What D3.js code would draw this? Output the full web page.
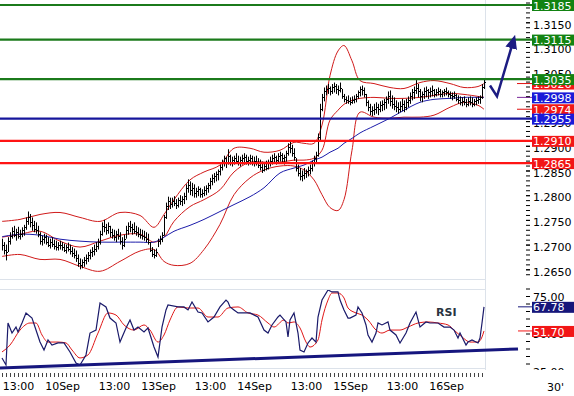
<!DOCTYPE html>
<html>
<head>
<meta charset="utf-8">
<script src="https://cdn.jsdelivr.net/npm/d3@7"></script>
<style>
body { margin: 0; background: #fff; }
svg { display: block; font-family: "DejaVu Sans", Verdana, sans-serif; }
</style>
</head>
<body>
<svg width="574" height="396"></svg>
<script>
// 30 min bars, 9 Sep 08:30 -> 16 Sep 09:30
var hi = [1.2712,1.2705,1.2700,1.2715,1.2725, 1.2735,1.2738,1.2732,1.2736,1.2730,1.2735,
  1.2740,1.2755,1.2767,1.2762,1.2755,1.2748, 1.2745,1.2738,
  1.2725,1.2718,1.2722,1.2720,1.2715,1.2712,1.2715,1.2710,1.2708,1.2705,
  1.2708,1.2705,1.2702,1.2700,1.2704,1.2700,1.2695,1.2692, 1.2688,1.2680,1.2672,1.2670,1.2675,
  1.2680,1.2685,1.2690,1.2695,1.2700,1.2705,1.2712, 1.2728,1.2745,1.2750,1.2742,1.2745,
  1.2738,1.2732,1.2730,1.2728,1.2732,1.2725,1.2715,1.2720, 1.2738,1.2745,1.2748,1.2742,1.2745,1.2738,1.2735,
  1.2732,1.2730,1.2728,1.2725,1.2722, 1.2705,1.2695,1.2690,1.2692, 1.2712,1.2718,1.2725,
  1.2760,1.2785,1.2797,1.2795, 1.2795,1.2798,1.2792,1.2795,1.2800,1.2798,1.2805,
  1.2822,1.2832,1.2828,1.2825,1.2822, 1.2815,1.2818,1.2815,1.2812,1.2818,1.2820,1.2825,
  1.2835,1.2842,1.2845,1.2848,1.2852, 1.2862,1.2872,1.2880,1.2878,1.2893,
  1.2882,1.2878,1.2880,1.2885,1.2880,1.2878,1.2882,1.2885,1.2882,1.2878,1.2882,1.2880,1.2878,1.2880,1.2875,
  1.2872,1.2868,1.2865,1.2870,1.2872, 1.2878,1.2882,1.2885,1.2880,1.2885,1.2888,1.2885,1.2882,
  1.2890,1.2905,1.2908,1.2902,1.2895, 1.2875,1.2862,1.2855,1.2850,1.2855,
  1.2852,1.2858,1.2862,1.2870,1.2880,1.2888, 1.2925,1.2985,1.3005,1.3018,
  1.3022,1.3025,1.3020,1.3025,1.3028,1.3025,1.3022,1.3028, 1.3015,1.3005,1.3000,1.3002,1.2998,
  1.3000,1.3002,1.3005,1.3012,1.3020, 1.3022,1.3018, 1.3005,1.2992,1.2985,1.2980,1.2985,
  1.2988,1.2985,1.2990,1.2992,1.2995, 1.3000,1.3010,1.3012,1.3002,1.2998,
  1.2992,1.2988,1.2990,1.2995,1.2992,1.2995,1.3000, 1.3008,1.3015,1.3020,1.3033,1.3025,
  1.3015,1.3010,1.3018,1.3020,1.3015,1.3018,1.3022,1.3015, 1.3015,1.3018,1.3015,1.3012,1.3015,1.3018,1.3012,1.3010,
  1.3008,1.3010,1.3005,1.3002,1.3000, 1.2998,1.3000,1.2995,1.2998,1.3000,1.2998,1.2995,
  1.2998,1.3000,1.3002,1.3025,1.3036];
var lo = [1.2688,1.2680,1.2668,1.2685,1.2700, 1.2712,1.2715,1.2708,1.2712,1.2710,1.2715,
  1.2718,1.2730,1.2740,1.2735,1.2728,1.2725, 1.2722,1.2715,
  1.2700,1.2698,1.2702,1.2700,1.2695,1.2692,1.2695,1.2690,1.2688,1.2688,
  1.2690,1.2688,1.2685,1.2682,1.2686,1.2680,1.2675,1.2672, 1.2665,1.2655,1.2650,1.2652,1.2655,
  1.2660,1.2665,1.2670,1.2675,1.2678,1.2685,1.2690, 1.2700,1.2718,1.2725,1.2720,1.2722,
  1.2715,1.2712,1.2708,1.2705,1.2710,1.2700,1.2690,1.2695, 1.2712,1.2720,1.2725,1.2720,1.2722,1.2718,1.2715,
  1.2712,1.2710,1.2708,1.2705,1.2700, 1.2685,1.2675,1.2672,1.2675, 1.2695,1.2700,1.2705,
  1.2718,1.2752,1.2770,1.2772, 1.2775,1.2778,1.2772,1.2775,1.2780,1.2778,1.2782,
  1.2790,1.2805,1.2800,1.2798,1.2795, 1.2795,1.2798,1.2795,1.2795,1.2798,1.2800,1.2805,
  1.2812,1.2820,1.2825,1.2828,1.2830, 1.2840,1.2850,1.2858,1.2855,1.2862,
  1.2860,1.2858,1.2862,1.2865,1.2860,1.2858,1.2862,1.2865,1.2862,1.2860,1.2862,1.2860,1.2858,1.2860,1.2855,
  1.2850,1.2845,1.2848,1.2850,1.2852, 1.2858,1.2862,1.2865,1.2862,1.2865,1.2868,1.2865,1.2862,
  1.2868,1.2880,1.2885,1.2878,1.2870, 1.2848,1.2838,1.2830,1.2828,1.2832,
  1.2835,1.2838,1.2842,1.2848,1.2858,1.2865, 1.2878,1.2910,1.2970,1.2990,
  1.3002,1.3005,1.3002,1.3005,1.3008,1.3005,1.3002,1.3008, 1.2995,1.2988,1.2985,1.2985,1.2982,
  1.2985,1.2986,1.2988,1.2995,1.3000, 1.3002,1.2998, 1.2980,1.2970,1.2962,1.2960,1.2962,
  1.2965,1.2962,1.2968,1.2970,1.2972, 1.2975,1.2985,1.2980,1.2975,1.2972,
  1.2968,1.2965,1.2968,1.2970,1.2968,1.2972,1.2978, 1.2985,1.2992,1.2995,1.3005,1.2998,
  1.2990,1.2988,1.2995,1.2998,1.2995,1.2998,1.3000,1.2998, 1.3000,1.3002,1.2998,1.2998,1.3000,1.3002,1.2998,1.2995,
  1.2992,1.2995,1.2990,1.2985,1.2982, 1.2980,1.2982,1.2978,1.2980,1.2982,1.2978,1.2980,
  1.2982,1.2985,1.2985,1.2995,1.3015];
var cl = [1.2700,1.2690,1.2685,1.2708,1.2718, 1.2728,1.2720,1.2725,1.2718,1.2722,1.2730,
  1.2735,1.2748,1.2755,1.2745,1.2740,1.2732, 1.2730,1.2722,
  1.2708,1.2712,1.2715,1.2705,1.2700,1.2705,1.2702,1.2698,1.2695,1.2700,
  1.2700,1.2695,1.2690,1.2695,1.2692,1.2688,1.2682,1.2678, 1.2672,1.2662,1.2658,1.2665,1.2668,
  1.2672,1.2678,1.2685,1.2688,1.2692,1.2698,1.2705, 1.2722,1.2738,1.2735,1.2730,1.2738,
  1.2725,1.2720,1.2715,1.2722,1.2718,1.2708,1.2700,1.2712, 1.2730,1.2738,1.2735,1.2732,1.2728,1.2725,1.2722,
  1.2720,1.2718,1.2715,1.2712,1.2705, 1.2690,1.2680,1.2678,1.2685, 1.2708,1.2712,1.2720,
  1.2755,1.2778,1.2788,1.2782, 1.2788,1.2785,1.2780,1.2790,1.2788,1.2792,1.2798,
  1.2815,1.2820,1.2810,1.2815,1.2805, 1.2808,1.2812,1.2802,1.2805,1.2810,1.2815,1.2820,
  1.2828,1.2835,1.2838,1.2842,1.2848, 1.2858,1.2868,1.2875,1.2865,1.2880,
  1.2868,1.2872,1.2875,1.2870,1.2868,1.2872,1.2875,1.2878,1.2870,1.2872,1.2875,1.2868,1.2870,1.2865,1.2862,
  1.2858,1.2852,1.2860,1.2855,1.2865, 1.2870,1.2875,1.2878,1.2872,1.2880,1.2882,1.2875,1.2878,
  1.2885,1.2898,1.2895,1.2885,1.2878, 1.2855,1.2845,1.2838,1.2840,1.2845,
  1.2848,1.2852,1.2855,1.2865,1.2875,1.2882, 1.2918,1.2975,1.2998,1.3010,
  1.3015,1.3018,1.3010,1.3020,1.3022,1.3015,1.3012,1.3018, 1.3000,1.2995,1.2992,1.2990,1.2988,
  1.2992,1.2995,1.3000,1.3008,1.3015, 1.3012,1.3005, 1.2988,1.2978,1.2970,1.2972,1.2975,
  1.2978,1.2975,1.2982,1.2985,1.2988, 1.2995,1.3000,1.2990,1.2985,1.2980,
  1.2978,1.2975,1.2980,1.2985,1.2978,1.2988,1.2992, 1.3000,1.3008,1.3012,1.3018,1.3010,
  1.3000,1.3005,1.3010,1.3012,1.3008,1.3010,1.3012,1.3005, 1.3008,1.3010,1.3005,1.3008,1.3010,1.3008,1.3005,1.3002,
  1.3000,1.3002,1.2995,1.2992,1.2988, 1.2990,1.2988,1.2985,1.2990,1.2988,1.2985,1.2990,
  1.2992,1.2995,1.2998,1.3020,1.3030];

// bollinger bands + moving average, read at these bars
var bandIdx = [0,9,19,29,39,49,59,69,76,81,86,94,101,109,116,124,131,139,146,151,156,160,164,168,171,175,179,186,194,201,209,216,224,231,238,241];
var bbUp = [1.2747,1.2751,1.2761,1.2765,1.2755,1.2747,1.2765,1.2759,1.2735,1.2761,1.2791,1.2831,1.2847,1.2861,1.2895,1.2895,1.2887,1.2891,1.2907,1.2905,1.2905,1.2942,1.3042,1.3092,1.3103,1.3072,1.3032,1.3026,1.3018,1.3016,1.3028,1.3032,1.3026,1.3018,1.3020,1.3026];
var bbMid = [1.2715,1.2721,1.2727,1.2707,1.2695,1.2707,1.2719,1.2721,1.2705,1.2715,1.2747,1.2777,1.2791,1.2811,1.2847,1.2867,1.2867,1.2867,1.2871,1.2871,1.2875,1.2891,1.2952,1.2972,1.2984,1.2992,1.2996,1.2998,1.2996,1.2996,1.2998,1.3002,1.3006,1.3004,1.3000,1.2998];
var bbLow = [1.2676,1.2680,1.2670,1.2670,1.2656,1.2646,1.2666,1.2687,1.2690,1.2666,1.2658,1.2662,1.2690,1.2741,1.2801,1.2835,1.2851,1.2859,1.2859,1.2851,1.2831,1.2801,1.2775,1.2769,1.2791,1.2891,1.2968,1.2958,1.2956,1.2958,1.2958,1.2962,1.2978,1.2988,1.2982,1.2974];
var ma = [1.2716,1.2721,1.2719,1.2711,1.2707,1.2705,1.2705,1.2705,1.2705,1.2715,1.2727,1.2739,1.2751,1.2767,1.2781,1.2797,1.2815,1.2845,1.2855,1.2861,1.2871,1.2877,1.2887,1.2895,1.2905,1.2915,1.2926,1.2940,1.2956,1.2972,1.2988,1.2994,1.2996,1.2998,1.2998,1.2998];

var rsiIdx = [0,2,3,5,7,8,10,12,15,17,19,21,23,25,28,31,34,37,39,42,44,47,49,52,54,57,59,62,64,66,68,71,73,76,78,80,82,83,88,91,93,95,98,100,103,106,109,112,113,114,116,118,121,124,128,131,133,135,138,139,142,143,144,146,148,149,151,153,155,157,158,160,163,165,168,169,171,173,174,177,178,180,182,183,185,187,188,190,193,194,197,199,202,204,207,209,212,214,218,221,224,226,228,229,232,233,235,238,239,240,241];
var rsiVal = [33.7,29.0,57.0,50.3,54.3,51.0,57.0,63.7,60.3,52.3,44.3,39.0,45.7,42.3,43.7,43.7,37.7,30.3,29.0,35.7,50.3,52.3,70.3,67.7,60.3,57.0,44.3,53.7,59.0,52.3,54.3,51.0,53.7,41.0,34.3,54.3,65.7,69.0,67.7,67.7,65.7,71.0,64.3,63.7,57.7,61.0,67.7,72.3,71.0,67.7,65.7,63.7,63.7,63.7,61.0,52.3,50.3,55.7,61.0,62.3,57.7,47.7,59.0,63.7,50.3,39.0,37.7,43.7,47.0,44.3,61.0,72.3,79.0,77.7,77.7,72.3,65.7,60.3,60.3,62.3,67.7,63.7,55.7,49.0,44.3,50.3,57.0,55.7,57.7,52.3,49.0,43.7,50.3,57.0,64.3,54.3,57.7,57.0,57.0,54.3,54.3,52.3,47.0,50.3,42.3,44.3,45.7,43.7,47.0,57.0,67.78];
var sigIdx = [0,4,9,14,17,20,23,28,32,35,39,43,48,53,57,61,66,71,74,78,81,84,88,93,98,103,108,113,118,123,128,133,136,141,143,146,149,152,154,158,160,163,165,168,171,173,177,180,183,187,190,194,199,203,208,213,218,223,226,230,234,238,240,241];
var sigVal = [37.7,42.3,52.3,57.0,57.0,49.0,44.3,44.3,43.7,39.0,33.7,35.7,50.3,63.7,62.3,55.7,52.3,55.7,52.3,44.3,49.0,59.0,67.7,67.0,67.0,61.0,61.0,67.0,67.7,63.7,62.3,57.0,54.3,59.0,57.0,57.7,53.7,44.3,41.0,45.7,59.0,72.3,77.0,77.0,73.7,67.0,63.7,62.3,59.0,52.3,50.3,52.3,52.3,54.3,57.0,57.7,57.0,55.7,52.3,47.7,44.3,44.3,47.7,51.70];
var trendIdx = [-1, 258], trendVal = [27.0, 39.7];

var levels = [1.3185, 1.3115, 1.3035, 1.2955, 1.2910, 1.2865];
var levelColors = ["#1b7a1b", "#1b7a1b", "#1b7a1b", "#16169c", "#ff1414", "#ff1414"];
var boxColors = ["#128312", "#128312", "#128312", "#1a1ad8", "#f21616", "#f21616"];
var lastVals = [1.3026, 1.2998, 1.2974];
var lastColors = ["#f21616", "#1a1ad8", "#f21616"];
var lastTicks = ["#e01010", "#7a2a9a", "#e01010"];
var priceTicks = [1.2650, 1.2700, 1.2750, 1.2800, 1.2850, 1.2900, 1.2950, 1.3000, 1.3050, 1.3100, 1.3150];
var rsiTicks = [25, 50, 75];
var rsiLast = [67.78, 51.70], rsiLastColors = ["#16167a", "#f21616"];
var timeIdx = [8, 30, 56, 78, 104, 126, 152, 174, 200, 222];
var timeLabels = ["13:00", "10Sep", "13:00", "13Sep", "13:00", "14Sep", "13:00", "15Sep", "13:00", "16Sep"];
var arrowIdx = [244, 247.5, 256], arrowPx = [1.3022, 1.3000, 1.3117];

var svg = d3.select("svg");

var x = d3.scaleLinear().domain([0, 241]).range([2, 484]);
var y = d3.scaleLinear().domain([1.2650, 1.3185]).range([269.3, 5]);
var yr = d3.scaleLinear().domain([25, 75]).range([371, 296]);

function pairs(idx, vals) {
  return idx.map(function(d, k) { return [d, vals[k]]; });
}

var defs = svg.append("defs");
defs.append("clipPath").attr("id", "clipMain")
  .append("rect").attr("x", 0).attr("y", 0).attr("width", 486).attr("height", 279);
defs.append("clipPath").attr("id", "clipRsi")
  .append("rect").attr("x", 0).attr("y", 290).attr("width", 486).attr("height", 78);
defs.append("clipPath").attr("id", "clipRsiAxis")
  .append("rect").attr("x", 486).attr("y", 280).attr("width", 88).attr("height", 90);
defs.append("marker")
    .attr("id", "head")
    .attr("viewBox", "0 -6 14 12")
    .attr("refX", 10).attr("refY", 0)
    .attr("markerUnits", "userSpaceOnUse")
    .attr("markerWidth", 14).attr("markerHeight", 12)
    .attr("orient", "auto")
  .append("path")
    .attr("d", "M0,-6L14,0L0,6Z")
    .attr("fill", "#1c1c82");

svg.append("rect").attr("width", 574).attr("height", 396).attr("fill", "#fff");

// frame
var grid = "#dce2ea";
[279.5, 289.5, 368.5].forEach(function(gy) {
  svg.append("line").attr("x1", 0).attr("x2", 486).attr("y1", gy).attr("y2", gy)
    .attr("stroke", grid);
});
svg.append("line").attr("x1", 485.5).attr("x2", 485.5).attr("y1", 0).attr("y2", 370)
  .attr("stroke", grid);

// price axis
var minor = d3.range(12640, 13196, 10).map(function(v) { return v / 10000; });
svg.append("g")
    .attr("transform", "translate(526,0)")
    .call(d3.axisRight(y).tickValues(minor).tickSize(4).tickFormat(""))
    .call(function(g) { g.select(".domain").remove(); });
svg.append("g")
    .attr("transform", "translate(526,0)")
    .call(d3.axisRight(y).tickValues(priceTicks).tickSize(4).tickPadding(3).tickFormat(d3.format(".4f")))
    .call(function(g) {
      g.select(".domain").remove();
      g.selectAll("text").attr("font-family", "DejaVu Sans").attr("font-size", 11)
        .attr("fill", "#000").attr("dy", "0.52em");
    });

// rsi axis (bottom label is cut by the panel edge)
var rsiAxis = svg.append("g").attr("clip-path", "url(#clipRsiAxis)");
rsiAxis.append("g")
    .attr("transform", "translate(526,0)")
    .call(d3.axisRight(yr).tickValues(d3.range(25, 81, 5)).tickSize(4).tickFormat(""))
    .call(function(g) { g.select(".domain").remove(); });
rsiAxis.append("g")
    .attr("transform", "translate(526,0)")
    .call(d3.axisRight(yr).tickValues(rsiTicks).tickSize(0).tickPadding(7).tickFormat(d3.format(".2f")))
    .call(function(g) {
      g.select(".domain").remove();
      g.selectAll("text").attr("font-family", "DejaVu Sans").attr("font-size", 11)
        .attr("fill", "#000").attr("dy", "0.4em");
    });

// time axis
svg.append("g")
    .attr("transform", "translate(0,373)")
    .call(d3.axisBottom(x).tickValues(d3.range(0, 242, 2)).tickSize(4).tickFormat(""))
    .call(function(g) {
      g.select(".domain").remove();
      g.selectAll("line").attr("stroke", "#444");
    });
svg.append("g")
    .attr("transform", "translate(0,380)")
    .call(d3.axisBottom(x).tickValues(timeIdx).tickSize(0).tickPadding(0)
      .tickFormat(function(d, k) { return timeLabels[k]; }))
    .call(function(g) {
      g.select(".domain").remove();
      g.selectAll("text").attr("font-family", "DejaVu Sans").attr("font-size", 11)
        .attr("fill", "#000").attr("dy", "0.9em");
    });
svg.append("text").attr("x", 547).attr("y", 391).attr("font-size", 11).text("30'");

// main panel
var main = svg.append("g").attr("clip-path", "url(#clipMain)");

var bandLine = d3.line()
    .x(function(d) { return x(d[0]); })
    .y(function(d) { return y(d[1]); })
    .curve(d3.curveCatmullRom.alpha(0.5));

[bbUp, bbLow, bbMid].forEach(function(vals) {
  main.append("path")
    .attr("d", bandLine(pairs(bandIdx, vals)))
    .attr("fill", "none").attr("stroke", "#d01a1a").attr("stroke-width", 1);
});
main.append("path")
  .attr("d", bandLine(pairs(bandIdx, ma)))
  .attr("fill", "none").attr("stroke", "#1c1caa").attr("stroke-width", 1);

main.append("path")
  .attr("fill", "none").attr("stroke", "#000").attr("stroke-width", 1)
  .attr("d", hi.map(function(h, i) {
    var px = Math.round(x(i)) + 0.5,
        cy = Math.round(y(cl[i])) + 0.5;
    return "M" + px + "," + y(h) + "V" + y(lo[i]) + "M" + px + "," + cy + "h1.5";
  }).join(""));

// levels
levels.forEach(function(v, k) {
  svg.append("line")
    .attr("x1", 0).attr("x2", 532)
    .attr("y1", y(v)).attr("y2", y(v))
    .attr("stroke", levelColors[k]).attr("stroke-width", 2.2);
});

// value boxes
function box(v, yy, fill, fmt) {
  svg.append("rect").attr("x", 532).attr("y", yy - 5).attr("width", 42).attr("height", 11)
    .attr("fill", fill);
  svg.append("text").attr("x", 533).attr("y", yy).attr("dy", "0.42em")
    .attr("font-size", 11).attr("fill", "#fff").text(fmt(v));
}
var f4 = d3.format(".4f"), f2 = d3.format(".2f");

lastVals.forEach(function(v, k) {
  svg.append("line").attr("x1", 517).attr("x2", 532).attr("y1", y(v)).attr("y2", y(v))
    .attr("stroke", lastTicks[k]).attr("stroke-width", 1);
  box(v, y(v), lastColors[k], f4);
});
levels.forEach(function(v, k) { box(v, y(v), boxColors[k], f4); });

// arrow
var arrowLine = d3.line()
    .x(function(d) { return x(d[0]); })
    .y(function(d) { return y(d[1]); });
svg.append("path")
  .attr("d", arrowLine(pairs(arrowIdx, arrowPx)))
  .attr("fill", "none").attr("stroke", "#1c1c82").attr("stroke-width", 2.5)
  .attr("stroke-linejoin", "miter")
  .attr("marker-end", "url(#head)");

// rsi panel
var rsiG = svg.append("g").attr("clip-path", "url(#clipRsi)");
var rsiLine = d3.line()
    .x(function(d) { return x(d[0]); })
    .y(function(d) { return yr(d[1]); });

rsiG.append("path")
  .attr("d", rsiLine.curve(d3.curveMonotoneX)(pairs(sigIdx, sigVal)))
  .attr("fill", "none").attr("stroke", "#e01818").attr("stroke-width", 1);
rsiG.append("path")
  .attr("d", rsiLine.curve(d3.curveLinear)(pairs(rsiIdx, rsiVal)))
  .attr("fill", "none").attr("stroke", "#1a1a6a").attr("stroke-width", 1.2);

svg.append("path")
  .attr("d", rsiLine(pairs(trendIdx, trendVal)))
  .attr("fill", "none").attr("stroke", "#16167e").attr("stroke-width", 3);

svg.append("text").attr("x", 436).attr("y", 316)
  .attr("font-size", 11).attr("font-weight", "bold").attr("fill", "#2b3440")
  .text("RSI");

rsiLast.forEach(function(v, k) {
  svg.append("line").attr("x1", 518).attr("x2", 532).attr("y1", yr(v)).attr("y2", yr(v))
    .attr("stroke", rsiLastColors[k]).attr("stroke-width", 1);
  box(v, yr(v), rsiLastColors[k], f2);
});
</script>
</body>
</html>
